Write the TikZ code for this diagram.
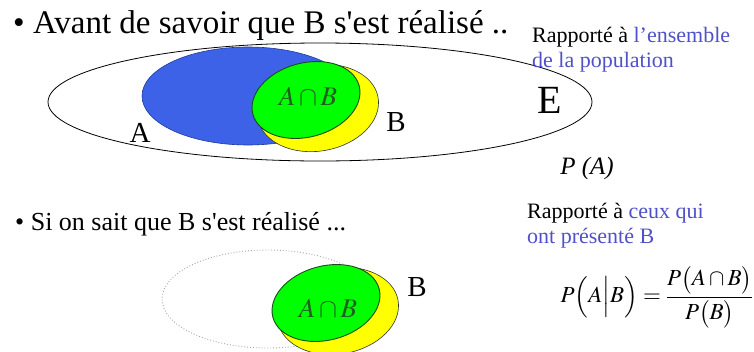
\documentclass[tikz,border=0pt]{standalone}
\usepackage{amsmath}
\usepackage{mathptmx}
\usepackage{fontspec}
\setmainfont{Liberation Serif}
\usepackage{tikz}
\usetikzlibrary{positioning}
\definecolor{setblue}{HTML}{3D62E8}
\definecolor{setblueline}{HTML}{1E3A9E}
\definecolor{setgreen}{HTML}{00FF00}
\definecolor{setgreenline}{HTML}{1C4A1C}
\definecolor{setyellow}{HTML}{FFFF00}
\definecolor{labgreen}{HTML}{1F5F1F}
\definecolor{noteblue}{HTML}{5050C8}
\tikzset{univ/.style={draw=black, line width=0.8pt}}
\tikzset{setA/.style={draw=setblueline, fill=setblue, line width=0.6pt}}
\tikzset{setB/.style={draw=black!80, fill=setyellow, line width=0.6pt}}
\tikzset{setAB/.style={draw=setgreenline, fill=setgreen, line width=0.9pt}}
\tikzset{ghost/.style={draw=black!35, dotted, line width=0.9pt}}
\tikzset{bullet/.style={anchor=base west, inner sep=0pt}}
\tikzset{note/.style={anchor=base west, inner sep=0pt, align=left, font=\rmfamily\fontsize{22}{25}\selectfont}}
\tikzset{setlabel/.style={inner sep=0pt, font=\rmfamily\fontsize{29}{29}\selectfont}}
\tikzset{ablabel/.style={inner sep=0pt, text=labgreen, font=\fontsize{27}{27}\selectfont}}

\begin{document}
\begin{tikzpicture}[x=1pt, y=-1pt]
  \useasboundingbox (0,0) rectangle (754,351);

  % before B is known
  \node[bullet, font=\rmfamily\fontsize{33}{33}\selectfont] (before) at (13,33) {\textbullet\ Avant de savoir que B s\textquotesingle est réalisé ..};
  \draw[univ] (320,102) ellipse (272pt and 59pt);
  \draw[setA] (248,96) ellipse (106pt and 49pt);
  \draw[setB, rotate around={10:(318,108)}] (318,108) ellipse (61pt and 43pt);
  \draw[setAB, rotate around={15:(306,100)}] (306,100) ellipse (55pt and 37pt);
  \node[ablabel] (ab) at (308,96) {$A\cap B$};
  \node[setlabel] (labA) at (140,133) {A};
  \node[setlabel] (labB) at (396,122) {B};
  \node[setlabel, font=\rmfamily\fontsize{40}{40}\selectfont] (labE) at (550,100) {E};
  \node[note] (whole) at (532,67) {Rapporté à \textcolor{noteblue}{l’ensemble}\\\textcolor{noteblue}{de la population}};
  \node[inner sep=0pt, font=\rmfamily\fontsize{25}{25}\selectfont\itshape] (pa) at (587,168) {P (A)};

  % once B is known
  \node[bullet, font=\rmfamily\fontsize{26}{26}\selectfont] (after) at (15,230) {\textbullet\ Si on sait que B s\textquotesingle est réalisé ...};
  \draw[ghost] (268,299) ellipse (106pt and 49pt);
  \draw[setB, rotate around={10:(338,311)}] (338,311) ellipse (61pt and 43pt);
  \draw[setAB, rotate around={15:(326,303)}] (326,303) ellipse (55pt and 37pt);
  \node[ablabel] (ab2) at (328,308) {$A\cap B$};
  \node[setlabel] (labB2) at (417,287) {B};
  \node[note] (given) at (527,243) {Rapporté à \textcolor{noteblue}{ceux qui}\\\textcolor{noteblue}{ont présenté B}};
  \node[inner sep=0pt, font=\fontsize{23}{23}\selectfont] (pab) at (657,297)
    {$P\Big(A\Big|B\Big)=\dfrac{P\big(A\cap B\big)}{P\big(B\big)}$};
\end{tikzpicture}
\end{document}
